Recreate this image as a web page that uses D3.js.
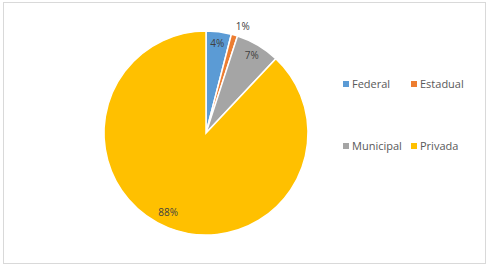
<!DOCTYPE html>
<html>
<head>
<meta charset="utf-8">
<script src="https://cdn.jsdelivr.net/npm/d3@7"></script>
<style>
  body { margin: 0; background: #fff; }
  svg { font-family: "Open Sans", "Liberation Sans", sans-serif; }
</style>
</head>
<body>
<svg id="chart"></svg>
<script>
var categories = ["Federal", "Estadual", "Municipal", "Privada"];
var values = [4, 1, 7, 88];
var colours = ["#5b9bd5", "#ed7d31", "#a5a5a5", "#ffc000"];

var width = 492, height = 268;
var cx = 206, cy = 133, radius = 102;

var svg = d3.select("#chart")
  .attr("width", width)
  .attr("height", height);

// chart frame
svg.append("rect")
  .attr("x", 3.5).attr("y", 2.5)
  .attr("width", 482).attr("height", 261)
  .attr("fill", "#fff")
  .attr("stroke", "#d9d9d9");

var data = categories.map(function(c, i) { return { label: c, value: values[i] }; });

var pie = d3.pie().sort(null).value(function(d) { return d.value; });
var arcs = pie(data);

var arc = d3.arc().innerRadius(0).outerRadius(radius);
var color = d3.scaleOrdinal().domain(categories).range(colours);

var g = svg.append("g").attr("transform", "translate(" + cx + "," + cy + ")");

g.selectAll("path")
  .data(arcs)
  .enter().append("path")
  .attr("d", arc)
  .attr("fill", function(d) { return color(d.data.label); })
  .attr("stroke", "#fff")
  .attr("stroke-width", 1.5);

// labels: small slice goes outside
var inner = d3.arc().innerRadius(radius * 0.88).outerRadius(radius * 0.88);
var outer = d3.arc().innerRadius(radius * 1.1).outerRadius(radius * 1.1);
var mid = d3.arc().innerRadius(radius * 0.86).outerRadius(radius * 0.86);

g.selectAll("text.lbl")
  .data(arcs)
  .enter().append("text")
  .attr("class", "lbl")
  .attr("transform", function(d) {
    var p;
    if (d.data.value < 2) {
      p = outer.centroid({ startAngle: d.startAngle + 0.05, endAngle: d.endAngle + 0.05 });
    } else if (d.data.value > 50) {
      p = mid.centroid({ startAngle: d.startAngle + 0.07, endAngle: d.endAngle + 0.07 });
    } else p = inner.centroid(d);
    return "translate(" + p + ")";
  })
  .attr("dy", "0.35em")
  .attr("text-anchor", "middle")
  .attr("fill", "#404040")
  .style("font-size", "10px")
  .text(function(d) { return d.data.value + "%"; });

// legend, two columns
var legX = d3.scalePoint().domain([0, 1]).range([343, 411]);
var legY = d3.scalePoint().domain([0, 1]).range([84, 146]);

var leg = svg.selectAll("g.leg")
  .data(categories)
  .enter().append("g")
  .attr("class", "leg")
  .attr("transform", function(d, i) {
    return "translate(" + legX(i % 2) + "," + legY(Math.floor(i / 2)) + ")";
  });

leg.append("rect")
  .attr("x", 0).attr("y", -3)
  .attr("width", 6).attr("height", 6)
  .attr("fill", function(d) { return color(d); });

leg.append("text")
  .attr("x", 9)
  .attr("dy", "0.35em")
  .attr("fill", "#595959")
  .style("font-size", "11px")
  .text(function(d) { return d; });
</script>
</body>
</html>
